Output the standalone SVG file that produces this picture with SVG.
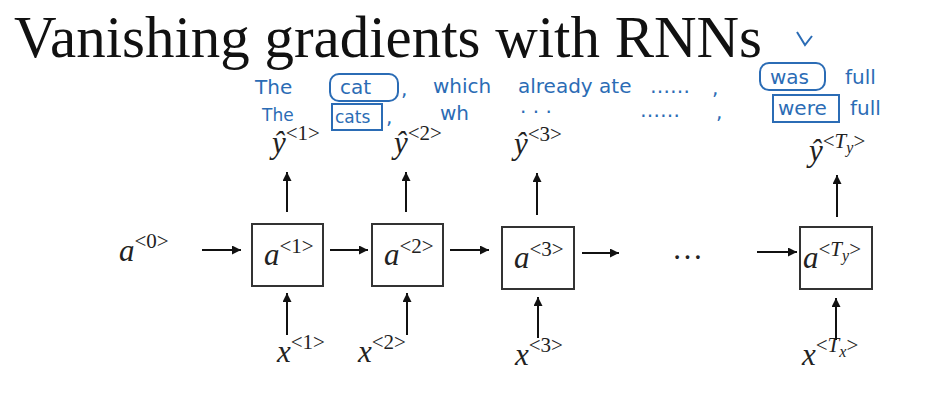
<svg xmlns="http://www.w3.org/2000/svg" width="941" height="406" viewBox="0 0 941 406">
<defs>
<marker id="ah" viewBox="0 0 10 10" refX="10" refY="5" markerWidth="9" markerHeight="9" markerUnits="userSpaceOnUse" orient="auto">
<path d="M0,0 L10,5 L0,10 z" fill="#111"/>
</marker>
</defs>
<style>
.title{font-family:"Liberation Serif",serif;font-size:59px;fill:#111}
.m{font-family:"Liberation Serif",serif;font-style:italic;font-size:31px;fill:#222}
.s{font-family:"Liberation Serif",serif;font-style:normal;font-size:21px}
.si{font-family:"Liberation Serif",serif;font-style:italic;font-size:21px}
.sub{font-size:16px}
.box{fill:#fff;stroke:#333;stroke-width:2}
.c{stroke:#111;stroke-width:2;fill:none;marker-end:url(#ah)}
.hw{font-family:"DejaVu Sans",sans-serif;font-size:20px;fill:#2b6cb5}
.hs{font-size:17px}
.hb{fill:none;stroke:#2b6cb5;stroke-width:2}
</style>
<rect width="941" height="406" fill="#fff"/>
<text class="title" x="14" y="57" textLength="748" lengthAdjust="spacingAndGlyphs">Vanishing gradients with RNNs</text>

<g id="notes">
<path class="hb" d="M797,32 L805,45 L812,36"/>
<text class="hw" x="255" y="94">The</text>
<rect class="hb" x="330" y="74" width="68" height="27" rx="9"/>
<text class="hw" x="340" y="94">cat</text>
<text class="hw" x="401" y="96">,</text>
<text class="hw" x="433" y="93">which</text>
<text class="hw" x="518" y="93">already ate</text>
<text class="hw" x="650" y="93">……</text>
<text class="hw" x="712" y="95">,</text>
<rect class="hb" x="760" y="63" width="65" height="27" rx="9"/>
<text class="hw" x="770" y="84">was</text>
<text class="hw" x="845" y="84">full</text>
<text class="hw hs" x="262" y="121">The</text>
<rect class="hb" x="332" y="104" width="50" height="26"/>
<text class="hw hs" x="335" y="123">cats</text>
<text class="hw" x="386" y="124">,</text>
<text class="hw" x="440" y="120">wh</text>
<text class="hw" x="520" y="119">·  ·  ·</text>
<text class="hw" x="640" y="117">……</text>
<text class="hw" x="716" y="119">,</text>
<rect class="hb" x="773" y="95" width="66" height="27"/>
<text class="hw" x="778" y="115">were</text>
<text class="hw" x="850" y="115">full</text>
</g>

<g id="a0"><text class="m" x="119" y="261">a<tspan class="s" dy="-13">&lt;0&gt;</tspan></text></g>

<g id="node1"><rect class="box" x="252" y="224" width="71" height="62"/><text class="m" x="264" y="265">a<tspan class="s" dy="-12">&lt;1&gt;</tspan></text></g>
<g id="node2"><rect class="box" x="372" y="224" width="71" height="62"/><text class="m" x="384" y="265">a<tspan class="s" dy="-12">&lt;2&gt;</tspan></text></g>
<g id="node3"><rect class="box" x="502" y="227" width="72" height="62"/><text class="m" x="514" y="268">a<tspan class="s" dy="-12">&lt;3&gt;</tspan></text></g>
<g id="node4"><rect class="box" x="800" y="227" width="72" height="62"/><text class="m" x="803" y="268">a<tspan class="s" dy="-12">&lt;<tspan class="si">T</tspan><tspan class="si sub" dy="5">y</tspan><tspan dy="-5">&gt;</tspan></tspan></text></g>

<g id="y1"><text class="m" x="272" y="153">ŷ<tspan class="s" dy="-13">&lt;1&gt;</tspan></text></g>
<g id="y2"><text class="m" x="394" y="153">ŷ<tspan class="s" dy="-13">&lt;2&gt;</tspan></text></g>
<g id="y3"><text class="m" x="514" y="154">ŷ<tspan class="s" dy="-13">&lt;3&gt;</tspan></text></g>
<g id="y4"><text class="m" x="809" y="161">ŷ<tspan class="s" dy="-13">&lt;<tspan class="si">T</tspan><tspan class="si sub" dy="5">y</tspan><tspan dy="-5">&gt;</tspan></tspan></text></g>

<g id="x1"><text class="m" x="277" y="362">x<tspan class="s" dy="-13">&lt;1&gt;</tspan></text></g>
<g id="x2"><text class="m" x="358" y="362">x<tspan class="s" dy="-13">&lt;2&gt;</tspan></text></g>
<g id="x3"><text class="m" x="515" y="365">x<tspan class="s" dy="-13">&lt;3&gt;</tspan></text></g>
<g id="x4"><text class="m" x="802" y="365">x<tspan class="s" dy="-13">&lt;<tspan class="si">T</tspan><tspan class="si sub" dy="5">x</tspan><tspan dy="-5">&gt;</tspan></tspan></text></g>

<g id="dots"><text class="m" x="672" y="259" style="font-style:normal">…</text></g>

<g id="connectors">
<line class="c" x1="202" y1="250" x2="241" y2="250"/>
<line class="c" x1="330" y1="250" x2="368" y2="250"/>
<line class="c" x1="450" y1="250" x2="489" y2="250"/>
<line class="c" x1="582" y1="253" x2="619" y2="253"/>
<line class="c" x1="757" y1="252" x2="797" y2="252"/>
<line class="c" x1="287" y1="212" x2="287" y2="172"/>
<line class="c" x1="406" y1="212" x2="406" y2="172"/>
<line class="c" x1="537" y1="215" x2="537" y2="173"/>
<line class="c" x1="837" y1="217" x2="837" y2="175"/>
<line class="c" x1="287" y1="335" x2="287" y2="293"/>
<line class="c" x1="407" y1="335" x2="407" y2="293"/>
<line class="c" x1="538" y1="338" x2="538" y2="297"/>
<line class="c" x1="836" y1="340" x2="836" y2="298"/>
</g>
</svg>
